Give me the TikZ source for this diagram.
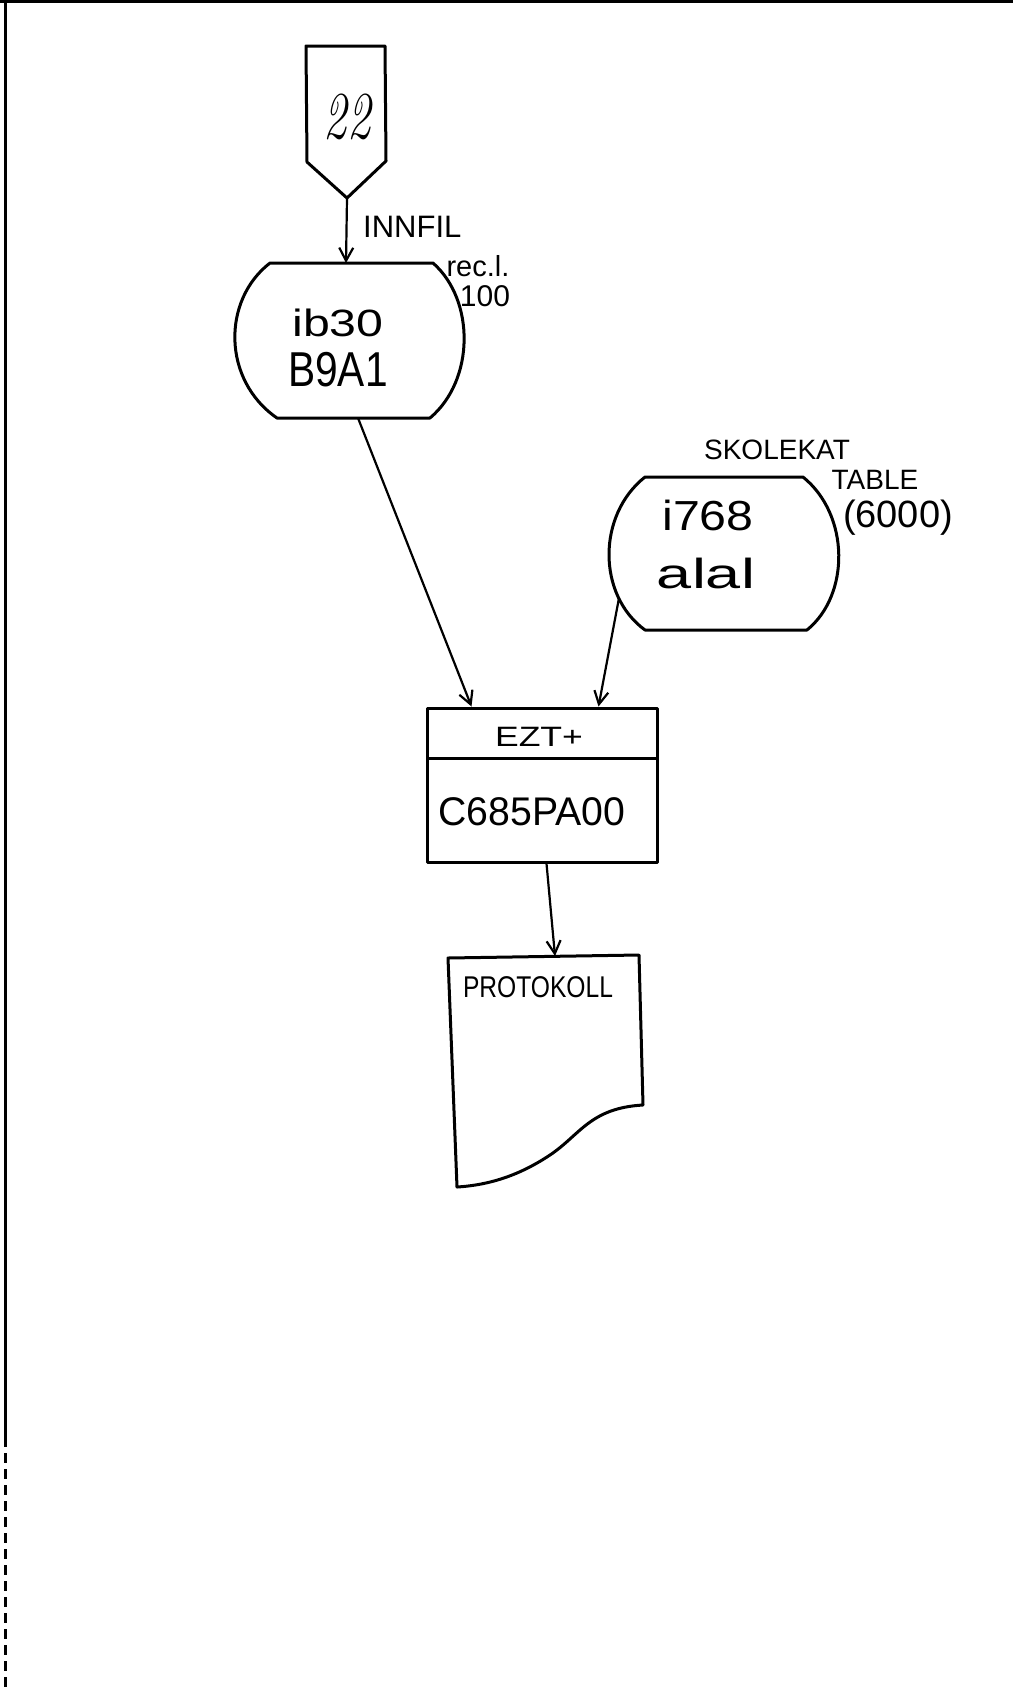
\documentclass[tikz,border=0pt]{standalone}
\usepackage{fontspec}
\setsansfont{Liberation Sans}
\usetikzlibrary{arrows.meta,calc}
\tikzset{
  outline/.style={line width=3pt, line join=round},
  conn/.style={line width=2.2pt, -{Straight Barb[length=13pt,width=14pt,line width=2.2pt]}},
  lbl/.style={inner sep=0pt, font=\sffamily},
  frameline/.style={line width=3pt},
}
\newcommand{\fsz}[1]{\fontsize{#1}{#1}\selectfont}
\begin{document}
\begin{tikzpicture}[x=1pt,y=-1pt]
\useasboundingbox (0,0) rectangle (1013,1692);
% page frame (top and left edges)
\draw[frameline] (0,1.5) -- (1013,1.5);
\draw[frameline] (5,0) -- (5,1437);
\draw[frameline, dash pattern=on 10pt off 6pt] (5,1437) -- (5,1692);

% off-page connector 22
\draw[outline] (306,46) -- (385,46) -- (386,161) -- (347,198) -- (307,162) -- cycle;
\node[lbl] (c22) at (347,117) {\scalebox{0.7}[1]{\rmfamily\itshape\fsz{67}22}};
\coordinate (c22tip) at (347,198);

% storage ib30
\draw[outline] (270,263) -- (433,263) .. controls (475,300) and (475,380) .. (430,418) -- (277,418) .. controls (222,380) and (222,300) .. (270,263) -- cycle;
\coordinate (st1top) at (346,263);
\coordinate (st1bot) at (358,418);
\node[lbl] (st1a) at (338,323) {\scalebox{1.27}[1]{\fsz{38}ib30}};
\node[lbl] (st1b) at (338,370) {\scalebox{0.83}[1]{\fsz{49}B9A1}};
\node[lbl, anchor=west] (innfil) at (363,227) {\fsz{31}INNFIL};
\node[lbl] (recl) at (478,266) {\fsz{29}rec.l.};
\node[lbl] (hund) at (485,296) {\fsz{30}100};

% storage i768
\draw[outline] (645,477) -- (803,477) .. controls (850,515) and (850,595) .. (807,630) -- (645,630) .. controls (597,595) and (597,515) .. (645,477) -- cycle;
\coordinate (st2l) at (619,598);
\node[lbl] (st2a) at (708,515) {\scalebox{1.15}[1]{\fsz{42}i768}};
\node[lbl] (st2b) at (706,573) {\scalebox{1.5}[1]{\fsz{42}alal}};
\node[lbl] (skole) at (777,450) {\fsz{28}SKOLEKAT};
\node[lbl] (table) at (875,480) {\fsz{28}TABLE};
\node[lbl] (sixk) at (898,518) {\fsz{38}(6000)};

% process box
\node[outline, draw, minimum width=230pt, minimum height=154pt, inner sep=0pt] (proc) at (542,785) {};
\draw[outline] (427,758) -- (657,758);
\node[lbl] (ezt) at (539,737) {\scalebox{1.27}[1]{\fsz{28}EZT+}};
\node[lbl] (pgm) at (532,812) {\scalebox{0.98}[1]{\fsz{40}C685PA00}};

% document
\draw[outline] (448,958) -- (639,955) -- (643,1105) .. controls (590,1108) and (580,1135) .. (550,1155) .. controls (520,1175) and (490,1185) .. (457,1187) -- cycle;
\coordinate (doctop) at (555,956);
\node[lbl] (prot) at (538,987) {\scalebox{0.82}[1]{\fsz{30}PROTOKOLL}};

% connectors
\draw[conn] (c22tip) -- (st1top);
\draw[conn] (st1bot) -- ($(proc.north west)+(46,0)$);
\draw[conn] (st2l) -- ($(proc.north west)+(173,0)$);
\draw[conn] ($(proc.south west)+(121,0)$) -- (doctop);
\end{tikzpicture}
\end{document}
